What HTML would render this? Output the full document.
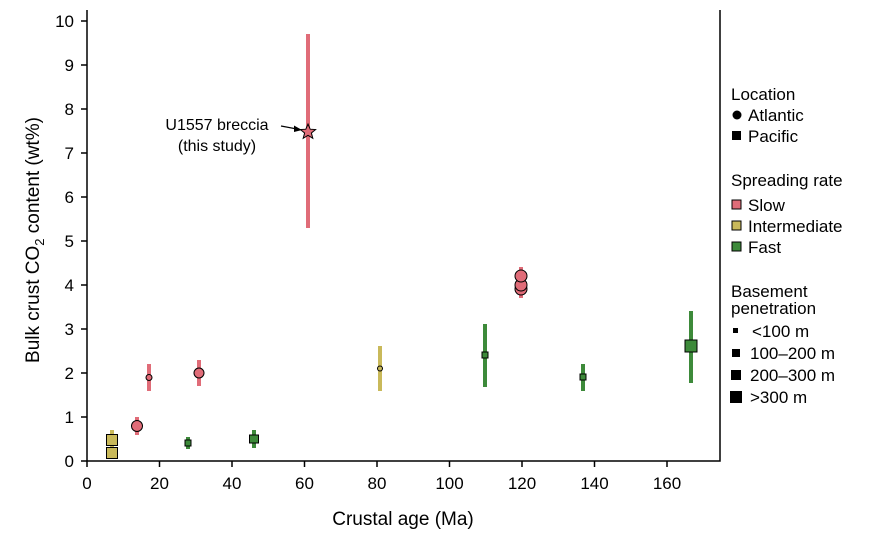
<!DOCTYPE html>
<html><head><meta charset="utf-8"><style>
body{margin:0;background:#fff;}
svg{display:block;font-family:"Liberation Sans",sans-serif;}
</style></head><body>
<svg width="880" height="540" viewBox="0 0 880 540">
<rect x="0" y="0" width="880" height="540" fill="#fff"/>
<path d="M87,10 V461 H720 V10" fill="none" stroke="#000" stroke-width="1.5"/>
<g stroke="#000" stroke-width="1.5">
<line x1="87" y1="461" x2="87" y2="467"/><line x1="159.5" y1="461" x2="159.5" y2="467"/><line x1="232" y1="461" x2="232" y2="467"/><line x1="304.5" y1="461" x2="304.5" y2="467"/><line x1="377" y1="461" x2="377" y2="467"/><line x1="449.5" y1="461" x2="449.5" y2="467"/><line x1="522" y1="461" x2="522" y2="467"/><line x1="594.5" y1="461" x2="594.5" y2="467"/><line x1="667" y1="461" x2="667" y2="467"/>
<line x1="81" y1="461" x2="87" y2="461"/><line x1="81" y1="417" x2="87" y2="417"/><line x1="81" y1="373" x2="87" y2="373"/><line x1="81" y1="329" x2="87" y2="329"/><line x1="81" y1="285" x2="87" y2="285"/><line x1="81" y1="241" x2="87" y2="241"/><line x1="81" y1="197" x2="87" y2="197"/><line x1="81" y1="153" x2="87" y2="153"/><line x1="81" y1="109" x2="87" y2="109"/><line x1="81" y1="65" x2="87" y2="65"/><line x1="81" y1="21" x2="87" y2="21"/>
</g>
<g font-size="17" fill="#000" text-anchor="middle">
<text x="87" y="489">0</text><text x="159.5" y="489">20</text><text x="232" y="489">40</text><text x="304.5" y="489">60</text><text x="377" y="489">80</text><text x="449.5" y="489">100</text><text x="522" y="489">120</text><text x="594.5" y="489">140</text><text x="667" y="489">160</text>
</g>
<g font-size="17" fill="#000" text-anchor="end">
<text x="74" y="467">0</text><text x="74" y="423">1</text><text x="74" y="379">2</text><text x="74" y="335">3</text><text x="74" y="291">4</text><text x="74" y="247">5</text><text x="74" y="203">6</text><text x="74" y="159">7</text><text x="74" y="115">8</text><text x="74" y="71">9</text><text x="74" y="27">10</text>
</g>
<text x="403" y="525" font-size="19" text-anchor="middle">Crustal age (Ma)</text>
<text transform="translate(39,240) rotate(-90)" font-size="19" text-anchor="middle">Bulk crust CO<tspan font-size="13" dy="5">2</tspan><tspan dy="-5"> content (wt%)</tspan></text>

<g stroke-width="4">
<line x1="112" y1="430" x2="112" y2="456" stroke="#c9b95a"/>
<line x1="137" y1="417" x2="137" y2="435" stroke="#e06c78"/>
<line x1="149" y1="364" x2="149" y2="391" stroke="#e06c78"/>
<line x1="199" y1="360" x2="199" y2="386" stroke="#e06c78"/>
<line x1="188" y1="437" x2="188" y2="449" stroke="#3d8a3a"/>
<line x1="254" y1="430" x2="254" y2="448" stroke="#3d8a3a"/>
<line x1="308" y1="34" x2="308" y2="228" stroke="#e06c78"/>
<line x1="380" y1="346" x2="380" y2="391" stroke="#c9b95a"/>
<line x1="485" y1="324" x2="485" y2="387" stroke="#3d8a3a"/>
<line x1="521" y1="267" x2="521" y2="298" stroke="#e06c78"/>
<line x1="583" y1="364" x2="583" y2="391" stroke="#3d8a3a"/>
<line x1="691" y1="311" x2="691" y2="383" stroke="#3d8a3a"/>
</g>
<g stroke="#000" stroke-width="1">
<rect x="106.5" y="434.5" width="11" height="11" fill="#c9b95a"/>
<rect x="106.5" y="447.5" width="11" height="11" fill="#c9b95a"/>
<circle cx="137" cy="426" r="5.5" fill="#e06c78"/>
<circle cx="149" cy="377.5" r="3" fill="#e06c78"/>
<circle cx="199" cy="373" r="5" fill="#e06c78"/>
<rect x="185" y="440" width="6" height="6" fill="#3d8a3a"/>
<rect x="249.5" y="435" width="9" height="8" fill="#3d8a3a"/>
<circle cx="380" cy="368.5" r="2.5" fill="#c9b95a"/>
<rect x="482" y="352" width="6" height="6" fill="#3d8a3a"/>
<circle cx="521" cy="289" r="6" fill="#e06c78"/>
<circle cx="521" cy="285" r="6" fill="#e06c78"/>
<circle cx="521" cy="276" r="6" fill="#e06c78"/>
<rect x="580" y="374" width="6" height="6" fill="#3d8a3a"/>
<rect x="685" y="340" width="12" height="12" fill="#3d8a3a"/>
<polygon points="308,124 310.2,129.2 315.6,129.5 311.4,133 312.8,138.3 308,135.3 303.2,138.3 304.6,133 300.4,129.5 305.8,129.2" fill="#e06c78"/>
</g>
<text x="217" y="130" font-size="16" text-anchor="middle">U1557 breccia</text>
<text x="217" y="151" font-size="16" text-anchor="middle">(this study)</text>
<line x1="281" y1="126" x2="297" y2="129" stroke="#000" stroke-width="1.2"/>
<polygon points="302,130 294,125.5 294,132" fill="#000"/>

<g font-size="17" fill="#000">
<text x="731" y="100">Location</text>
<circle cx="737" cy="115" r="4.5"/><text x="748" y="121">Atlantic</text>
<rect x="732" y="131" width="9" height="9"/><text x="748" y="142">Pacific</text>
<text x="731" y="186">Spreading rate</text>
<rect x="732" y="200" width="9" height="9" fill="#e06c78" stroke="#000"/><text x="748" y="211">Slow</text>
<rect x="732" y="221" width="9" height="9" fill="#c9b95a" stroke="#000"/><text x="748" y="232">Intermediate</text>
<rect x="732" y="242" width="9" height="9" fill="#3d8a3a" stroke="#000"/><text x="748" y="253">Fast</text>
<text x="731" y="297">Basement</text>
<text x="731" y="314">penetration</text>
<rect x="733" y="328" width="5" height="5"/><text x="752" y="337">&lt;100 m</text>
<rect x="732" y="349" width="8" height="8"/><text x="750" y="359">100–200 m</text>
<rect x="731" y="370" width="10" height="10"/><text x="750" y="381">200–300 m</text>
<rect x="730" y="391" width="12" height="12"/><text x="750" y="403">&gt;300 m</text>
</g>
</svg>
</body></html>
